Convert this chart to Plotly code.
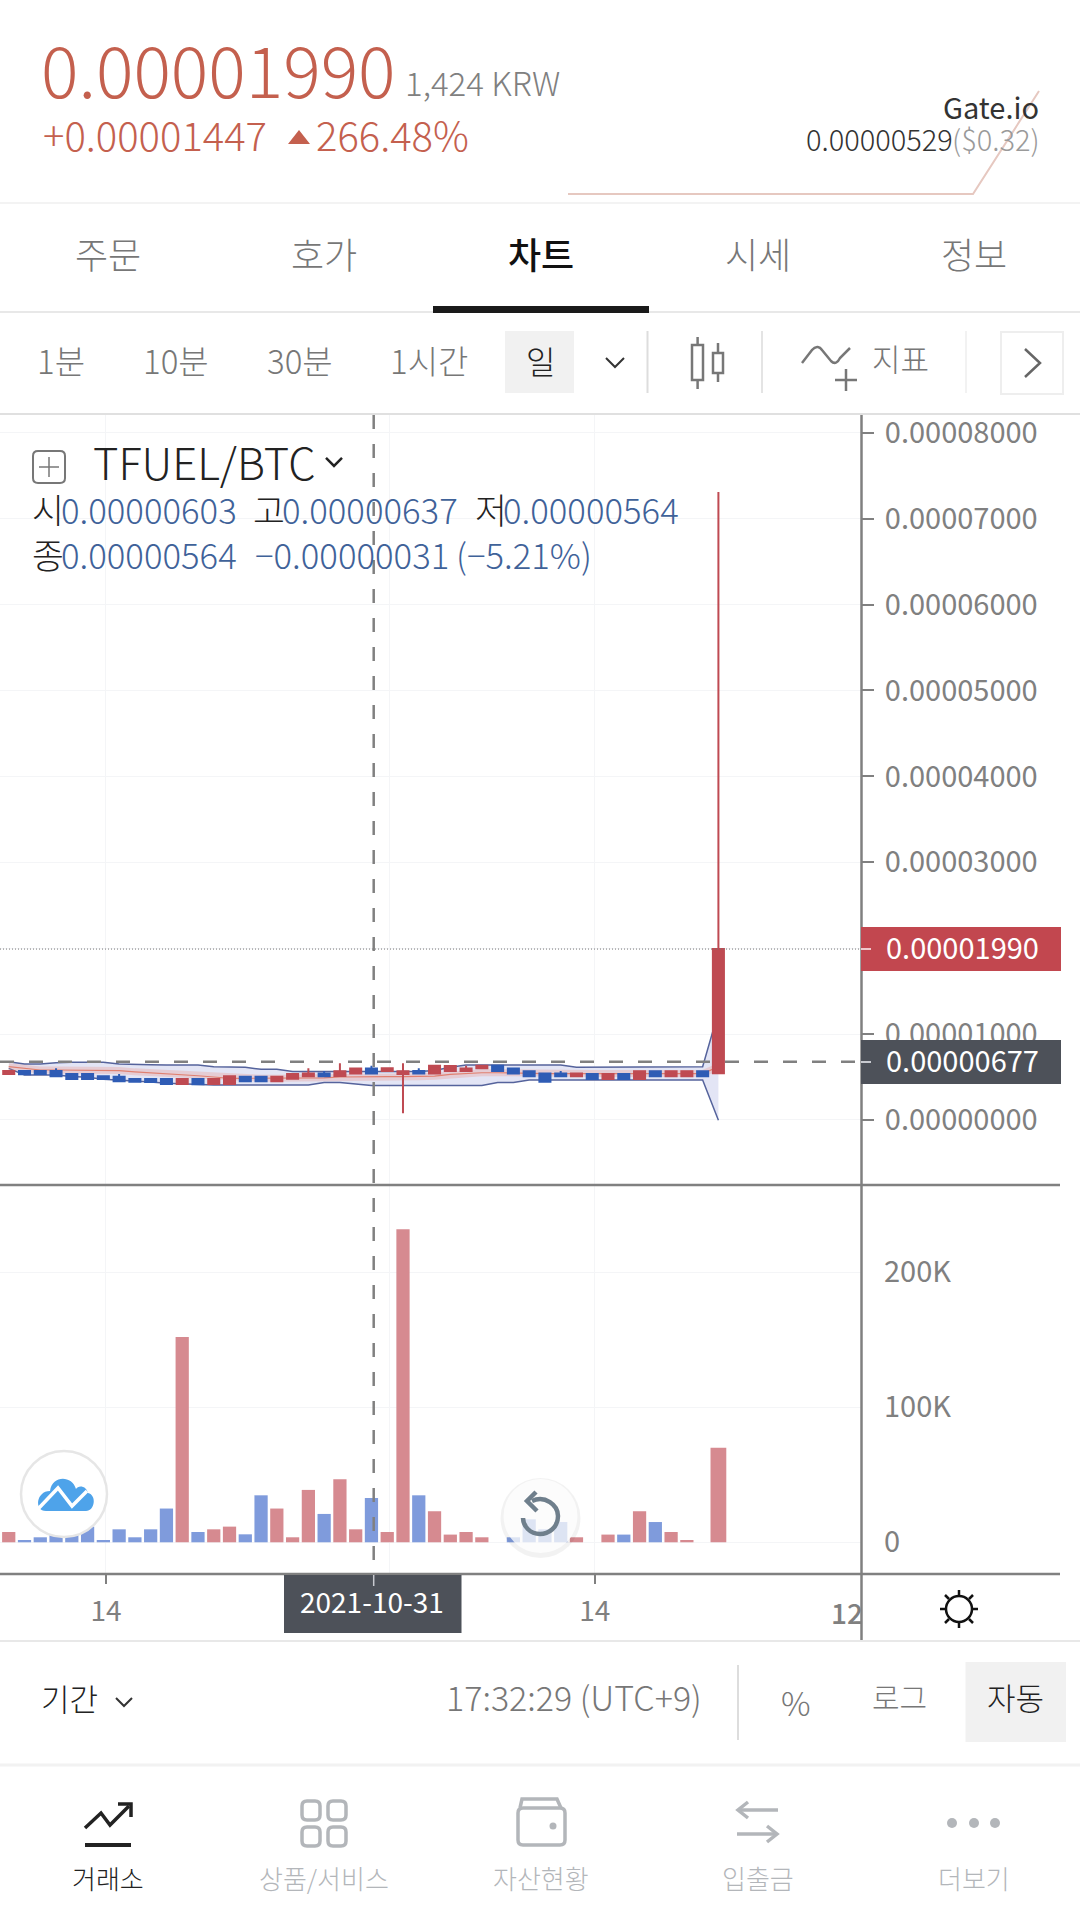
import plotly.graph_objects as go

W = 1080
H = 1913
FONT = "Noto Sans CJK KR"

RED = "#bf4a52"
BLUE = "#2f5cb5"
VOL_RED = "#d68a90"
VOL_BLUE = "#7f9bdc"
GREY = "#808080"
TAG_DARK = "#4d5159"

### DATA ###
dates = [
    "2021-10-08", "2021-10-09", "2021-10-10", "2021-10-11", "2021-10-12", "2021-10-13",
    "2021-10-14", "2021-10-15", "2021-10-16", "2021-10-17", "2021-10-18", "2021-10-19",
    "2021-10-20", "2021-10-21", "2021-10-22", "2021-10-23", "2021-10-24", "2021-10-25",
    "2021-10-26", "2021-10-27", "2021-10-28", "2021-10-29", "2021-10-30", "2021-10-31",
    "2021-11-01", "2021-11-02", "2021-11-03", "2021-11-04", "2021-11-05", "2021-11-06",
    "2021-11-07", "2021-11-08", "2021-11-09", "2021-11-10", "2021-11-11", "2021-11-12",
    "2021-11-13", "2021-11-14", "2021-11-15", "2021-11-16", "2021-11-17", "2021-11-18",
    "2021-11-19", "2021-11-20", "2021-11-21", "2021-11-22",
]

# prices are in units of 0.00000001 BTC
opens = [536, 570, 570, 570, 536, 536, 508, 504, 477, 477, 477, 419, 477, 419, 419, 504,
         504, 450, 481, 508, 540, 512, 540, 598, 570, 536, 570, 540, 570, 570, 601, 632,
         598, 566, 540, 540, 508, 536, 477, 536, 477, 566, 508, 508, 566, 543]
highs = [570, 570, 570, 601, 536, 536, 508, 536, 477, 477, 477, 477, 477, 477, 508, 504,
         504, 504, 536, 601, 570, 660, 598, 632, 601, 660, 601, 632, 628, 632, 632, 632,
         598, 566, 540, 570, 540, 536, 536, 536, 566, 566, 566, 566, 566, 7310]
lows = [536, 532, 536, 508, 477, 477, 477, 450, 446, 442, 419, 419, 415, 419, 419, 450,
        450, 450, 481, 508, 508, 512, 540, 540, 570, 78, 540, 540, 570, 570, 601, 570,
        540, 508, 446, 508, 508, 477, 477, 477, 477, 508, 508, 508, 508, 543]
closes = [570, 532, 536, 508, 477, 477, 477, 450, 446, 442, 419, 477, 415, 477, 508, 450,
          450, 504, 536, 540, 508, 566, 598, 540, 601, 566, 540, 632, 628, 598, 632, 570,
          540, 508, 446, 508, 540, 477, 536, 477, 566, 508, 566, 566, 508, 1990]

band_upper = [679, 652, 652, 667, 671, 671, 671, 652, 652, 644, 640, 640, 640, 621, 613, 613,
              590, 590, 563, 563, 563, 563, 563, 563, 563, 563, 563, 575, 613, 640, 640, 640,
              640, 640, 640, 640, 613, 613, 613, 613, 613, 613, 613, 613, 621, 1257]
band_lower = [601, 524, 524, 524, 505, 497, 474, 466, 454, 442, 427, 419, 408, 408, 408, 408,
              408, 408, 408, 408, 435, 435, 419, 400, 400, 400, 400, 400, 400, 400, 400, 435,
              435, 466, 466, 466, 466, 466, 466, 466, 466, 466, 466, 466, 466, -2]
band_mid = [621, 600, 582, 582, 582, 582, 582, 575, 560, 550, 540, 530, 515, 500, 485, 485,
            485, 485, 485, 485, 490, 500, 504, 504, 504, 504, 504, 510, 530, 540, 550, 550,
            545, 540, 540, 540, 540, 540, 540, 540, 540, 540, 540, 540, 540, 620]

volumes = [7600, 1700, 3700, 5400, 5400, 11600, 1700, 9600, 3700, 9600, 25000, 152000, 7600,
           9600, 11600, 5900, 34800, 25000, 3700, 38800, 21000, 46700, 9600, 32800, 7600,
           232000, 34800, 23000, 5700, 7600, 3700, 0, 3700, 17000, 9600, 15000, 3700, 0,
           5700, 5700, 23000, 15000, 7600, 1700, 0, 70000]

price_ticks = [0.00000000, 0.00001000, 0.00002000, 0.00003000, 0.00004000,
               0.00005000, 0.00006000, 0.00007000, 0.00008000]
price_tick_text = ["0.00000000", "0.00001000", "", "0.00003000", "0.00004000",
                   "0.00005000", "0.00006000", "0.00007000", "0.00008000"]
volume_ticks = [0, 100000, 200000]
volume_tick_text = ["0", "100K", "200K"]
date_ticks = ["2021-10-14 04:00", "2021-11-01 04:00", "2021-11-14 04:00"]
date_tick_text = ["14", "11월", "14"]

last_price = 0.00001990
prev_close = 0.00000677


def px(x):
    return x / W


def py(y):
    return 1 - y / H


def scale(vals):
    return [v * 1e-8 for v in vals]


shapes = []
annotations = []


def path_px(d):
    # "M 10 20 L 30 40" in page pixels -> same path in paper coords
    out = []
    is_x = True
    for tok in d.split():
        if tok.isalpha():
            out.append(tok)
            is_x = True
        else:
            out.append(str(round(px(float(tok)) if is_x else py(float(tok)), 5)))
            is_x = not is_x
    return " ".join(out)


def line(x0, y0, x1, y1, color="#e8e8e8", width=2, dash=None):
    shapes.append(dict(type="line", xref="paper", yref="paper",
                       x0=px(x0), y0=py(y0), x1=px(x1), y1=py(y1),
                       line=dict(color=color, width=width, dash=dash)))


def rect(x0, y0, x1, y1, fill, border=None, width=0):
    shapes.append(dict(type="rect", xref="paper", yref="paper",
                       x0=px(x0), y0=py(y0), x1=px(x1), y1=py(y1), fillcolor=fill,
                       line=dict(color=border or fill, width=width)))


def circle(cx, cy, r, fill, border="rgba(0,0,0,0)", width=0):
    shapes.append(dict(type="circle", xref="paper", yref="paper",
                       x0=px(cx - r), y0=py(cy - r), x1=px(cx + r), y1=py(cy + r),
                       fillcolor=fill, line=dict(color=border, width=width)))


def stroke(d, color, width=2, fill=None):
    shape = dict(type="path", xref="paper", yref="paper", path=path_px(d),
                 line=dict(color=color, width=width))
    if fill:
        shape["fillcolor"] = fill
    shapes.append(shape)


def round_box(x0, y0, x1, y1, color, width):
    r = 5
    stroke(f"M {x0 + r} {y0} L {x1 - r} {y0} Q {x1} {y0} {x1} {y0 + r} L {x1} {y1 - r} "
           f"Q {x1} {y1} {x1 - r} {y1} L {x0 + r} {y1} Q {x0} {y1} {x0} {y1 - r} "
           f"L {x0} {y0 + r} Q {x0} {y0} {x0 + r} {y0} Z", color, width)


def txt(x, y, s, size, color, anchor="center", weight=None):
    annotations.append(dict(xref="paper", yref="paper", x=px(x), y=py(y), text=s,
                            showarrow=False, xanchor=anchor, yanchor="middle", borderpad=0,
                            font=dict(family=FONT, size=size, color=color, weight=weight)))


### CHART ###
fig = go.Figure()

fig.add_trace(go.Scatter(x=dates, y=scale(band_upper), mode="lines", xaxis="x", yaxis="y",
                         line=dict(color="#55639c", width=1.5), hoverinfo="skip"))
fig.add_trace(go.Scatter(x=dates, y=scale(band_lower), mode="lines", xaxis="x", yaxis="y",
                         line=dict(color="#55639c", width=1.5), fill="tonexty",
                         fillcolor="#e3e5f5", hoverinfo="skip"))
fig.add_trace(go.Scatter(x=dates, y=scale(band_mid), mode="lines", xaxis="x", yaxis="y",
                         line=dict(color="rgba(235,130,115,0.25)", width=7), hoverinfo="skip"))
fig.add_trace(go.Scatter(x=dates, y=scale(band_mid), mode="lines", xaxis="x", yaxis="y",
                         line=dict(color="#e08070", width=1.2), hoverinfo="skip"))
# on its own overlaying axis, otherwise the band fill paints over the candles
fig.add_trace(go.Candlestick(x=dates, open=scale(opens), high=scale(highs), low=scale(lows),
                             close=scale(closes), xaxis="x", yaxis="y3", whiskerwidth=0,
                             increasing=dict(line=dict(color=RED, width=2), fillcolor=RED),
                             decreasing=dict(line=dict(color=BLUE, width=2), fillcolor=BLUE)))

vol_colors = [VOL_RED if c >= o else VOL_BLUE for o, c in zip(opens, closes)]
fig.add_trace(go.Bar(x=dates, y=volumes, xaxis="x2", yaxis="y2", marker_color=vol_colors,
                     marker_line_width=0, width=[0.84 * 86400000] * 45 + [86400000]))

x_range = ["2021-10-07 10:43", "2021-12-01 01:00"]
price_range = [-0.757e-5, 8.207e-5]
fig.update_layout(
    width=W, height=H, autosize=False,
    margin=dict(l=0, r=0, t=0, b=0, pad=0, autoexpand=False),
    paper_bgcolor="white", plot_bgcolor="white", showlegend=False, boxgap=0,
    font=dict(family=FONT),
    xaxis=dict(domain=[0, px(861)], anchor="y", type="date", range=x_range, tickvals=date_ticks,
               showticklabels=False, ticks="", gridcolor="#f4f5f7", gridwidth=1,
               rangeslider=dict(visible=False), zeroline=False, showline=False),
    xaxis2=dict(domain=[0, px(861)], anchor="y2", type="date", range=x_range, tickvals=date_ticks,
                ticktext=date_tick_text, ticks="outside", ticklen=9, tickwidth=2, tickcolor=GREY,
                tickangle=0, ticklabelstandoff=3, tickfont=dict(family=FONT, size=28, color=GREY),
                gridcolor="#f4f5f7", gridwidth=1, zeroline=False, showline=False),
    yaxis=dict(domain=[py(1185), py(415)], anchor="x", side="right",
               range=price_range, tickvals=price_ticks, ticktext=price_tick_text,
               ticks="outside", ticklen=12, tickwidth=2, tickcolor=GREY, ticklabelstandoff=5,
               tickfont=dict(family=FONT, size=29, color=GREY), gridcolor="#f4f5f7",
               zeroline=False, showline=False),
    yaxis2=dict(domain=[py(1574), py(1185)], anchor="x2", side="right",
                range=[-23500, 264700], tickvals=volume_ticks, ticktext=volume_tick_text,
                ticks="", ticklabelstandoff=22,
                tickfont=dict(family=FONT, size=29, color=GREY), gridcolor="#f4f5f7",
                zeroline=False, showline=False),
    yaxis3=dict(overlaying="y", side="right", range=price_range, visible=False, showgrid=False),
)

price_y = lambda p: 1120 - p * 1e5 * 85.9

### header ###
txt(40, 68, "0.00001990", 70, "#c4604e", "left", 300)
txt(404, 82, "1,424 KRW", 33, "#808080", "left", 300)
txt(42, 134, "+0.00001447", 40, "#c4604e", "left", 300)
stroke("M 288 144 L 299 130 L 310 144 Z", "#c4604e", 0, "#c4604e")
txt(315, 134, "266.48%", 40, "#c4604e", "left", 300)
stroke("M 568 194 L 973 194 L 1039 91", "#e6c8c0", 2)
txt(1040, 106, "Gate.io", 29, "#333333", "right")
txt(954, 138, "0.00000529", 29, "#333333", "right", 300)
txt(1041, 138, "($0.32)", 29, "#9a9a9a", "right", 300)
line(0, 203, W, 203, "#f3f3f3")

### tabs ###
for x, s in zip([108, 324, 757.6, 974], ["주문", "호가", "시세", "정보"]):
    txt(x, 253, s, 36, "#777777", weight=300)
txt(540.6, 253, "차트", 36, "#111111", weight=500)
line(0, 312, W, 312, "#e8e8e8")
rect(433, 306, 649, 313, "#1a1a1a")

### interval toolbar ###
for x, s in zip([61, 175.6, 299.6, 429], ["1분", "10분", "30분", "1시간"]):
    txt(x, 360, s, 33, "#777777", weight=300)
rect(505, 331, 574, 393, "#f1f1f1")
txt(540, 360, "일", 32, "#222222", weight=300)
stroke("M 606 358 L 615 367 L 624 358", "#333333", 2)
line(647.5, 331, 647.5, 393, "#dddddd")
line(762, 331, 762, 393, "#e4e4e4")
line(966, 331, 966, 393, "#f2f2f2")
line(697.6, 337, 697.6, 389, "#777777", 2.5)
rect(692, 345, 703, 380, "white", "#777777", 2.5)
line(718, 343, 718, 382, "#777777", 2.5)
rect(713, 353, 723, 373, "white", "#777777", 2.5)
stroke("M 802 363 L 812 350 C 816 345 820 347 822 350 L 831 361 C 835 365 838 362 840 358 L 850 348",
       "#777777", 2.5)
line(846, 369, 846, 391, "#777777", 2.5)
line(835, 380, 857, 380, "#777777", 2.5)
txt(900, 357, "지표", 31, "#777777", weight=300)
rect(1001, 332, 1063, 394, "white", "#eeeeee", 2)
stroke("M 1025 349 L 1040 363 L 1025 377", "#666666", 2.5)
line(0, 414, W, 414, "#e0e0e0")

### chart overlays ###
line(0, price_y(last_price), 861, price_y(last_price), "#777777", 1, "1px,2px")
line(0, price_y(prev_close), 861, price_y(prev_close), GREY, 2.5, "14px,15px")
line(373.7, 415, 373.7, 1574, GREY, 2.5, "14px,15px")
line(0, 1185, 1060, 1185, GREY, 2.5)
line(0, 1574, 1060, 1574, GREY, 2.5)
line(861.5, 415, 861.5, 1641, GREY, 2.5)
line(0, 1641, W, 1641, "#e8e8e8")

rect(861, 927, 1061, 971, "#c2474f")
rect(861, 1040, 1061, 1084, TAG_DARK)
line(861, 949, 871, 949, "#f0c8cc", 2)
line(861, 1062, 871, 1062, "#c8cad0", 2)
txt(885, 946, "0.00001990", 29, "white", "left")
txt(885, 1059, "0.00000677", 29, "white", "left")

# legend block on the chart
round_box(33, 451, 65, 483, "#777777", 2)
line(49, 457, 49, 477, "#777777", 1.5)
line(39, 467, 59, 467, "#777777", 1.5)
txt(92, 461, "TFUEL/BTC", 43.5, "#222222", "left", 300)
stroke("M 326 458 L 334 466 L 342 458", "#222222", 2.5)
ohlc_rows = [
    (509, [(31, "시", "#222222"), (60, "0.00000603", "#3f6299"), (252, "고", "#222222"),
           (281, "0.00000637", "#3f6299"), (474, "저", "#222222"), (502, "0.00000564", "#3f6299")]),
    (554, [(31, "종", "#222222"), (60, "0.00000564", "#3f6299"), (254, "−0.00000031", "#3f6299"),
           (455, "(−5.21%)", "#3f6299")]),
]
for y, parts in ohlc_rows:
    for x, s, c in parts:
        txt(x, y, s, 34.7, c, "left", 300)

### date tag and axis corner ###
rect(284, 1575, 461.5, 1633, TAG_DARK)
line(373.7, 1575, 373.7, 1586, "#c8cad0", 1.5)
txt(372, 1601, "2021-10-31", 28, "white")
txt(830, 1612, "12", 28, GREY, "left", 500)

# gear
circle(959, 1609, 13, "white", "#111111", 2.5)
for a, b, c, d in [(959, 1590, 959, 1596), (959, 1622, 959, 1628), (940, 1609, 946, 1609),
                   (972, 1609, 978, 1609), (945, 1595, 949, 1599), (969, 1619, 973, 1623),
                   (973, 1595, 969, 1599), (949, 1619, 945, 1623)]:
    line(a, b, c, d, "#111111", 2.5)

# floating buttons
circle(64, 1494, 43, "white", "#e6e6e6", 2.5)
stroke("M 46 1511 L 86 1511 C 95 1511 97 1495 88 1493 C 86 1485 78 1485 76 1489 "
       "C 72 1475 52 1475 50 1491 C 36 1491 34 1511 46 1511 Z", "#4ea3ea", 0, "#4ea3ea")
stroke("M 38 1509 L 58 1488 L 72 1506 L 87 1491", "white", 3.5)
circle(540.5, 1518, 40, "rgba(0,0,0,0.05)")
circle(540.5, 1516, 37, "rgba(255,255,255,0.75)")
stroke("M 532 1501 C 545 1495 558 1505 558 1516 C 558 1528 548 1534 540 1534 "
       "C 530 1534 523 1526 523 1518", "#6f7f8c", 4.5)
stroke("M 536 1492 L 527 1501 L 537 1511", "#6f7f8c", 4.5)

### bottom toolbar ###
txt(69, 1697, "기간", 31, "#222222", weight=300)
stroke("M 116 1698 L 124 1706 L 132 1698", "#333333", 2)
txt(445, 1696, "17:32:29 (UTC+9)", 34, "#777777", "left", 300)
line(738, 1665, 738, 1740, "#dddddd")
txt(796, 1702, "%", 33, "#777777", weight=300)
txt(899, 1696, "로그", 30, "#777777", weight=300)
rect(965.5, 1662, 1066, 1742, "#f1f1f1")
txt(1015, 1696, "자동", 31, "#222222", weight=300)

### bottom nav ###
line(0, 1765, W, 1765, "#f2f2f2", 3)
NAV_GREY = "#b3b6ba"
stroke("M 85 1828 L 101 1813 L 110 1825 L 129 1806", "#222222", 3.5)
stroke("M 118 1804 L 131 1804 L 131 1817", "#222222", 3.5)
line(85, 1845, 131, 1845, "#222222", 4)
for x0, y0 in [(302, 1801), (328, 1801), (302, 1827), (328, 1827)]:
    round_box(x0, y0, x0 + 18, y0 + 19, NAV_GREY, 3.5)
round_box(518, 1808, 565, 1845, NAV_GREY, 3.5)
stroke("M 520 1808 L 522 1799 L 557 1799 L 561 1808", NAV_GREY, 3.5)
circle(553, 1826, 3.5, NAV_GREY)
line(739, 1810, 778, 1810, NAV_GREY, 3.5)
stroke("M 748 1802 L 738 1810 L 748 1818", NAV_GREY, 3.5)
line(737, 1834, 776, 1834, NAV_GREY, 3.5)
stroke("M 767 1826 L 777 1834 L 767 1842", NAV_GREY, 3.5)
for x in [952, 974, 995]:
    circle(x, 1823, 5, NAV_GREY)
txt(108, 1877, "거래소", 26, "#222222", weight=300)
for x, s in zip([324, 540.6, 757.6, 974], ["상품/서비스", "자산현황", "입출금", "더보기"]):
    txt(x, 1877, s, 26, NAV_GREY, weight=300)

fig.update_layout(shapes=shapes, annotations=annotations)

fig.write_html("out.html", config={"displayModeBar": False},
               post_script="document.body.style.margin='0';")
